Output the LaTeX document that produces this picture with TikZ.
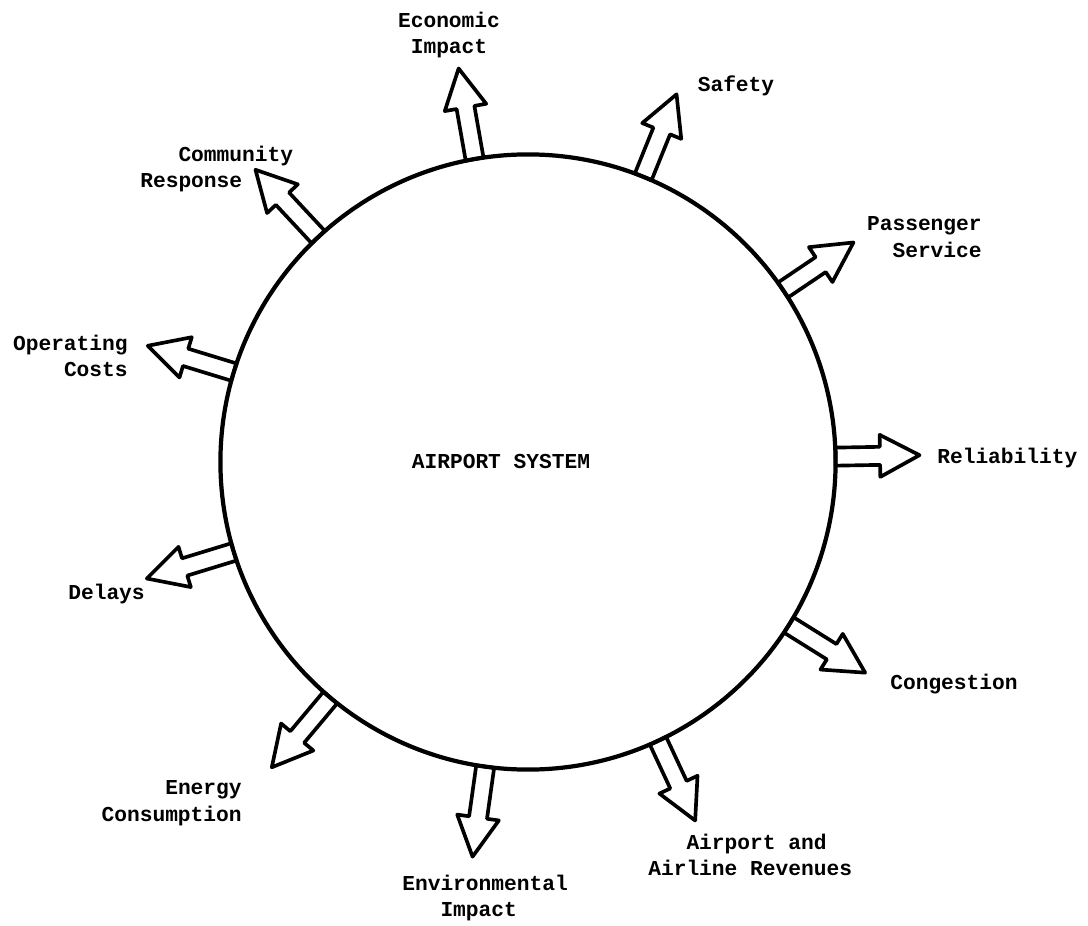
\documentclass[tikz,border=0pt]{standalone}
\usepackage{fontspec}
\setmonofont{Liberation Mono}
\usetikzlibrary{shapes.arrows}

\begin{document}
\begin{tikzpicture}[
  x=0.025cm, y=-0.025cm,
  hub/.style={draw, circle, line width=3pt, minimum size=15.375cm, inner sep=0pt, outer sep=0pt},
  outarrow/.style={draw, single arrow, line width=2.6pt, line join=round, inner xsep=0pt, inner ysep=0.18cm,
    single arrow head extend=0.3cm, single arrow tip angle=56, anchor=tail, outer sep=0pt},
  lbl/.style={font=\ttfamily\bfseries\fontsize{15.1}{18.85}\selectfont, inner sep=0pt},
]

\def\px{0.025cm}
\def\ind{\hspace*{1.8em}}

\useasboundingbox (0,0) rectangle (1088,926);

% --- Hub ---
\node[hub] (hub) at (528,462) {};
\node[lbl] (title) at (501,462) {AIRPORT SYSTEM};

% --- Arrows ---
\node[outarrow, rotate=100, minimum height=92*\px] (econ) at (hub.100) {};
\node[outarrow, rotate=68,  minimum height=89*\px] (safe) at (hub.68) {};
\node[outarrow, rotate=34,  minimum height=85*\px] (pass) at (hub.34) {};
\node[outarrow, rotate=1,   minimum height=84*\px] (reli) at (hub.1) {};
\node[outarrow, rotate=328, minimum height=90*\px] (cong) at (hub.328) {};
\node[outarrow, rotate=295, minimum height=88*\px] (reve) at (hub.295) {};
\node[outarrow, rotate=262, minimum height=91*\px] (envi) at (hub.262) {};
\node[outarrow, rotate=230, minimum height=91*\px] (ener) at (hub.230) {};
\node[outarrow, rotate=197, minimum height=91*\px] (dela) at (hub.197) {};
\node[outarrow, rotate=163, minimum height=90*\px] (oper) at (hub.163) {};
\node[outarrow, rotate=133, minimum height=92*\px] (comm) at (hub.133) {};

% --- Labels ---
\node[lbl, align=center] (econlbl) at (449,35) {Economic\\Impact};
\node[lbl] (safelbl) at (736,86) {Safety};
\node[lbl, align=right, anchor=east] (passlbl) at (982,237) {Passenger\\Service};
\node[lbl, anchor=west] (relilbl) at (937,458) {Reliability};
\node[lbl, anchor=west] (conglbl) at (890,684) {Congestion};
\node[lbl, align=left, anchor=west] (revelbl) at (648,855) {\ind Airport and\\Airline Revenues};
\node[lbl, align=left, anchor=west] (envilbl) at (402,898) {Environmental\\\ind Impact};
\node[lbl, align=right, anchor=east] (enerlbl) at (242,803) {Energy\\Consumption};
\node[lbl, anchor=west] (delalbl) at (68,594) {Delays};
\node[lbl, align=right, anchor=east] (operlbl) at (128,356) {Operating\\Costs};
\node[lbl, align=left, anchor=west] (commlbl) at (140,169) {\ind Community\\Response};

\end{tikzpicture}
\end{document}
